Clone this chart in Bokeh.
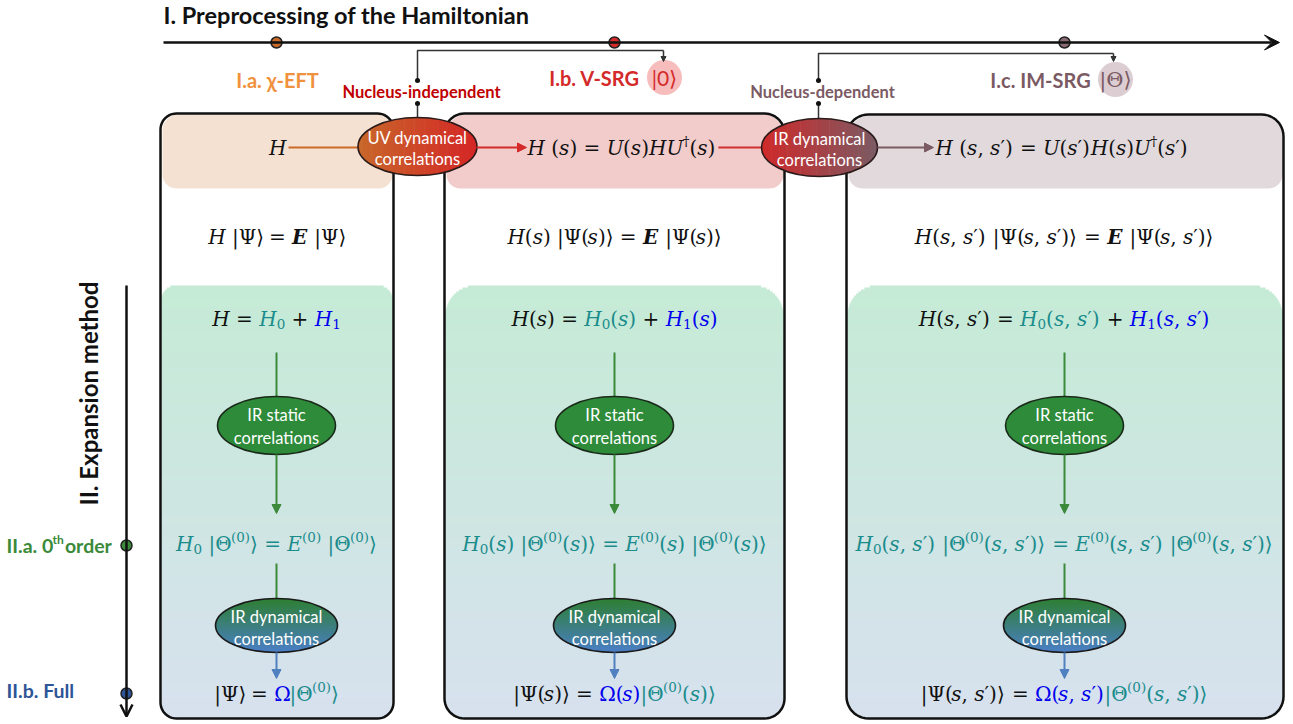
import numpy as np
from bokeh.plotting import figure
from bokeh.models import Range1d, Arrow, NormalHead, VeeHead, OpenHead, ColumnDataSource
from bokeh.core.properties import value
from bokeh.embed import file_html
from bokeh.resources import INLINE

SANS = "Lato"
SERIF = "DejaVu Serif"

# ---------------- content ----------------
TITLE_TOP = "I. Preprocessing of the Hamiltonian"
TITLE_LEFT = "II. Expansion method"
STAGE_LABELS = ["I.a. χ-EFT", "I.b. V-SRG", "I.c. IM-SRG"]
STAGE_KETS = ["", "|0⟩", "|Θ⟩"]
STAGE_KET_FONTS = [SANS, SANS, SERIF]
STAGE_TEXT_COLORS = ["#f0913e", "#d42a2a", "#7b5a63"]
STAGE_DOT_COLORS = ["#c8692a", "#d42a2a", "#8a6a72"]
KET_FILLS = [None, "#f7bcbc", "#dccdd2"]
BRIDGE_LABELS = ["Nucleus-independent", "Nucleus-dependent"]
BRIDGE_COLORS = ["#c00000", "#7b5a63"]
TOP_ELLIPSE_TEXT = [["UV dynamical", "correlations"], ["IR dynamical", "correlations"]]
TOP_ELLIPSE_GRAD = [["#c8672a", "#d42626"], ["#cf2a2a", "#7b5a63"]]
STATIC_TEXT = ["IR static", "correlations"]
STATIC_COLOR = "#2e8b3a"
DYN_TEXT = ["IR dynamical", "correlations"]
DYN_GRAD = ["#2e7f35", "#4a7fc4"]
ORDER_COLORS = ["#3a8a3a", "#2e5597"]
PANEL_TOP_FILLS = ["#f4e1d1", "#f2cbcb", "#e2d9dc"]
GREEN_GRAD = ["#c5ebd6", "#d7e1ee"]

K, T, B, KB = "#111111", "#1a8c8c", "#0000ee", "bold"
ROW1 = [[("H", K)],
        [("H (s) = U(s)HU†(s)", K)],
        [("H (s, s′) = U(s′)H(s)U†(s′)", K)]]
ROW2 = [[("H |Ψ⟩ = ", K), ("E", KB), (" |Ψ⟩", K)],
        [("H(s) |Ψ(s)⟩ = ", K), ("E", KB), (" |Ψ(s)⟩", K)],
        [("H(s, s′) |Ψ(s, s′)⟩ = ", K), ("E", KB), (" |Ψ(s, s′)⟩", K)]]
ROW3 = [[("H = ", K), ("H₀", T), (" + ", K), ("H₁", B)],
        [("H(s) = ", K), ("H₀(s)", T), (" + ", K), ("H₁(s)", B)],
        [("H(s, s′) = ", K), ("H₀(s, s′)", T), (" + ", K), ("H₁(s, s′)", B)]]
ROW4 = [[("H₀ |Θ⁽⁰⁾⟩ = E⁽⁰⁾ |Θ⁽⁰⁾⟩", T)],
        [("H₀(s) |Θ⁽⁰⁾(s)⟩ = E⁽⁰⁾(s) |Θ⁽⁰⁾(s)⟩", T)],
        [("H₀(s, s′) |Θ⁽⁰⁾(s, s′)⟩ = E⁽⁰⁾(s, s′) |Θ⁽⁰⁾(s, s′)⟩", T)]]
ROW5 = [[("|Ψ⟩ = ", K), ("Ω", B), ("|Θ⁽⁰⁾⟩", T)],
        [("|Ψ(s)⟩ = ", K), ("Ω(s)", B), ("|Θ⁽⁰⁾(s)⟩", T)],
        [("|Ψ(s, s′)⟩ = ", K), ("Ω(s, s′)", B), ("|Θ⁽⁰⁾(s, s′)⟩", T)]]

# ---------------- layout (reference pixel frame) ----------------
COL_X = [276, 614, 1064]
PANEL_X = [(160, 393), (444, 784), (846, 1283)]
PANEL_TOP = [113, 113, 114]
PANEL_R = [16, 20, 22]
PANEL_BOTTOM = 718
TOPFILL_BOTTOM = 188
GREEN_TOP = 285
GREEN_R = [14, 30, 30]
ROW_Y = [147, 236, 318, 543, 693]
FS = 20
SS = 13.5
SCRIPT = {'₀': ('0', 'sub'), '₁': ('1', 'sub'), '⁽': ('(', 'sup'), '⁰': ('0', 'sup'), '⁾': (')', 'sup'),
          '†': ('†', 'sup')}
SCRIPT_DY = {'sub': 5, 'sup': -7}

W_SERIF = {' ': 0.318, '(': 0.39, ')': 0.39, ',': 0.318, '=': 0.838, '+': 0.838, '|': 0.337,
           'Ψ': 0.80, 'Θ': 0.787, 'Ω': 0.765, '⟩': 0.39, '′': 0.27, '†': 0.5, '0': 0.636, '1': 0.636,
           'H': 0.872, 'E': 0.734, 'U': 0.82, 's': 0.514}


def lerp(c0, c1, t):
    a = [int(c0[i:i + 2], 16) for i in (1, 3, 5)]
    b = [int(c1[i:i + 2], 16) for i in (1, 3, 5)]
    return "#%02x%02x%02x" % tuple(int(round(a[k] + (b[k] - a[k]) * t)) for k in range(3))


def rr_poly(x0, x1, y0, y1, rt, rb, n=12):
    xs, ys = [], []

    def arc(cx, cy, r, a0, a1):
        for a in np.linspace(a0, a1, n):
            xs.append(cx + r * np.cos(a))
            ys.append(cy + r * np.sin(a))
    arc(x0 + rt, y0 + rt, rt, np.pi, 1.5 * np.pi)
    arc(x1 - rt, y0 + rt, rt, 1.5 * np.pi, 2 * np.pi)
    arc(x1 - rb, y1 - rb, rb, 0, 0.5 * np.pi)
    arc(x0 + rb, y1 - rb, rb, 0.5 * np.pi, np.pi)
    return xs, ys


def inset_at(y, y0, y1, rt, rb):
    if y < y0 + rt:
        d = y0 + rt - y
        return rt - np.sqrt(max(rt * rt - d * d, 0))
    if y > y1 - rb:
        d = y - (y1 - rb)
        return rb - np.sqrt(max(rb * rb - d * d, 0))
    return 0.0


p = figure(width=1293, height=724, x_range=Range1d(0, 1293), y_range=Range1d(724, 0),
           output_backend="svg", toolbar_location=None, min_border=0,
           x_axis_location=None, y_axis_location=None)
p.grid.visible = False
p.outline_line_color = None
p.background_fill_color = "white"
p.border_fill_color = "white"

# ---- panel fills ----
for i, (x0, x1) in enumerate(PANEL_X):
    xs, ys = rr_poly(x0 + 2, x1 - 1, PANEL_TOP[i] + 1, TOPFILL_BOTTOM, PANEL_R[i], 14)
    p.patch(xs, ys, fill_color=PANEL_TOP_FILLS[i], line_color=None)
    yy = np.arange(GREEN_TOP, PANEL_BOTTOM, 2.0)
    L, R, Tp, Bt, C = [], [], [], [], []
    for j, y in enumerate(yy):
        ins = inset_at(y + 1, GREEN_TOP, PANEL_BOTTOM, GREEN_R[i], PANEL_R[i])
        L.append(x0 + 1 + ins)
        R.append(x1 - 1 - ins)
        Tp.append(y)
        Bt.append(min(y + 2.6, PANEL_BOTTOM))
        C.append(lerp(GREEN_GRAD[0], GREEN_GRAD[1], j / (len(yy) - 1)))
    p.quad(left=L, right=R, top=Tp, bottom=Bt, fill_color=C, line_color=None)

# ---- panel outlines ----
for i, (x0, x1) in enumerate(PANEL_X):
    xs, ys = rr_poly(x0, x1, PANEL_TOP[i], PANEL_BOTTOM, PANEL_R[i], PANEL_R[i])
    p.patch(xs, ys, fill_alpha=0, line_color="#111111", line_width=2.5)

# ---- top timeline ----
p.add_layout(Arrow(x_start=163, y_start=42, x_end=1279, y_end=42, line_width=2.5, line_color="#111111",
                   end=VeeHead(size=15, fill_color="#111111", line_color="#111111")))
p.scatter(COL_X, [42] * 3, size=11, fill_color=STAGE_DOT_COLORS, line_color="#222222", line_width=1.5)

# ---- bracket connectors ----
BR_X = [(417, 663), (818, 1113)]
BR_Y = [50, 53]
for k, (xa, xb) in enumerate(BR_X):
    p.line([xa, xa, xb], [80, BR_Y[k], BR_Y[k]], line_color="#333333", line_width=1.5)
    p.add_layout(Arrow(x_start=xb, y_start=BR_Y[k], x_end=xb, y_end=61, line_color="#333333", line_width=1.5,
                       end=NormalHead(size=5, fill_color="#333333", line_color="#333333")))
    p.line([xa, xa], [103, 118], line_color="#333333", line_width=1.5)
    p.scatter([xa, xa], [80, 103], size=5, fill_color="#111111", line_color=None)
    p.text([xa + 4], [91], text=[BRIDGE_LABELS[k]], text_color=BRIDGE_COLORS[k], text_font=value(SANS),
           text_font_style="bold", text_font_size="16.5px", text_align="center", text_baseline="middle")

# ---- stage labels & kets ----
STAGE_LX = [277, 594, 1040]
STAGE_LY = [79, 77, 79]
KET_X = [None, 664, 1115]
for i in range(3):
    p.text([STAGE_LX[i]], [STAGE_LY[i]], text=[STAGE_LABELS[i]], text_color=STAGE_TEXT_COLORS[i],
           text_font=value(SANS), text_font_style="bold", text_font_size="20px",
           text_align="center", text_baseline="middle")
    if KET_FILLS[i]:
        p.scatter([KET_X[i]], [STAGE_LY[i]], size=35, fill_color=KET_FILLS[i], line_color=None)
        p.text([KET_X[i]], [STAGE_LY[i]], text=[STAGE_KETS[i]], text_color=STAGE_TEXT_COLORS[i],
               text_font=value(STAGE_KET_FONTS[i]), text_font_size="21px", text_align="center",
               text_baseline="middle")

p.text([163], [14], text=[TITLE_TOP], text_font=value(SANS), text_font_style="bold",
       text_font_size="23.5px", text_baseline="middle", text_color="#111111")

# ---- formulas ----
fx, fy, ft, fc, fs, fz = [], [], [], [], [], []


def kind_of(ch):
    if ch in SCRIPT:
        return SCRIPT[ch][1]
    if ch == " ":
        return "sp"
    if ch.isascii() and ch.isalpha():
        return "it"
    return "up"


def width_of(s, bold=False):
    w = 0.0
    for ch in s:
        if ch in SCRIPT:
            w += W_SERIF.get(SCRIPT[ch][0], 0.55) * SS
        else:
            w += W_SERIF.get(ch, 0.55) * FS * (1.08 if bold else 1.0)
    return w


def place(segs, x, y, align="center"):
    total = sum(width_of(t, c == KB) for t, c in segs)
    if align == "center":
        cx = x - total / 2
    elif align == "right":
        cx = x - total
    else:
        cx = x
    for t, c in segs:
        bold = c == KB
        col = K if bold else c
        cur, cur_kind = "", None
        for ch in t + "\0":
            kind = kind_of(ch)
            if ch == "\0" or (cur and kind != cur_kind):
                if cur:
                    if cur_kind != "sp":
                        if cur_kind in SCRIPT_DY:
                            fx.append(cx); fy.append(y + SCRIPT_DY[cur_kind])
                            ft.append("".join(SCRIPT[q][0] for q in cur)); fz.append(f"{SS}px")
                            fs.append("normal")
                        else:
                            fx.append(cx); fy.append(y); ft.append(cur); fz.append(f"{FS}px")
                            fs.append(("bold italic" if bold else "italic") if cur_kind == "it" else "normal")
                        fc.append(col)
                    cx += width_of(cur, bold)
                cur = ""
            if ch != "\0":
                cur += ch
                cur_kind = kind
    return cx


place(ROW1[0], 286, ROW_Y[0], "right")
end2 = place(ROW1[1], 527, ROW_Y[0], "left")
place(ROW1[2], 935, ROW_Y[0], "left")
for r, row in enumerate([ROW2, ROW3, ROW4, ROW5]):
    for i in range(3):
        place(row[i], COL_X[i], ROW_Y[r + 1])
p.text(x="x", y="y", text="text", text_color="color", text_font_style="style", text_font_size="size",
       source=ColumnDataSource(dict(x=fx, y=fy, text=ft, color=fc, style=fs, size=fz)),
       text_font=value(SERIF), text_align="left", text_baseline="middle")

# ---- top flow lines ----
p.line([288, 360], [147, 147], line_color="#cc6a2a", line_width=2)
p.add_layout(Arrow(x_start=476, y_start=147, x_end=526, y_end=147, line_color="#d42a2a", line_width=2,
                   end=NormalHead(size=9, fill_color="#d42a2a", line_color="#d42a2a")))
p.line([end2 + 3, 763], [147, 147], line_color="#d03030", line_width=2)
p.add_layout(Arrow(x_start=877, y_start=147, x_end=933, y_end=147, line_color="#7b5a63", line_width=2,
                   end=NormalHead(size=9, fill_color="#7b5a63", line_color="#7b5a63")))

# ---- vertical flow lines ----
for c in COL_X:
    p.line([c, c], [352, 397], line_color="#3a8a3a", line_width=2)
    p.add_layout(Arrow(x_start=c, y_start=454, x_end=c, y_end=513, line_color="#3a8a3a", line_width=2,
                       end=NormalHead(size=9, fill_color="#3a8a3a", line_color="#3a8a3a")))
    p.line([c, c], [563, 598], line_color="#3a8a3a", line_width=2)
    p.add_layout(Arrow(x_start=c, y_start=652, x_end=c, y_end=678, line_color="#5080c0", line_width=2,
                       end=NormalHead(size=9, fill_color="#5080c0", line_color="#5080c0")))


# ---- ellipses ----
def ellipse_grad(cx, cy, w, h, c0, c1, axis, n=36):
    xs_all, ys_all, cols = [], [], []
    a, b = w / 2, h / 2
    for i in range(n):
        if axis == "x":
            u0, u1 = -a + 2 * a * i / n, min(-a + 2 * a * (i + 1) / n + 0.6, a)
            u = np.linspace(u0, u1, 6)
            v = b * np.sqrt(np.clip(1 - (u / a) ** 2, 0, 1))
            xs_all.append(list(cx + u) + list(cx + u[::-1]))
            ys_all.append(list(cy - v) + list(cy + v[::-1]))
        else:
            v0, v1 = -b + 2 * b * i / n, min(-b + 2 * b * (i + 1) / n + 0.6, b)
            v = np.linspace(v0, v1, 6)
            u = a * np.sqrt(np.clip(1 - (v / b) ** 2, 0, 1))
            ys_all.append(list(cy + v) + list(cy + v[::-1]))
            xs_all.append(list(cx - u) + list(cx + u[::-1]))
        cols.append(lerp(c0, c1, i / (n - 1)))
    p.patches(xs_all, ys_all, fill_color=cols, line_color=None)


TOP_E = [(417, 146, 119, 58), (819, 147, 116, 58)]
for k, (cx, cy, w, h) in enumerate(TOP_E):
    ellipse_grad(cx, cy, w, h, TOP_ELLIPSE_GRAD[k][0], TOP_ELLIPSE_GRAD[k][1], "x")
    p.ellipse([cx], [cy], width=w, height=h, fill_color=None, line_color="#2a1a1a", line_width=1.6)
    p.text([cx, cx], [cy - 9, cy + 12], text=TOP_ELLIPSE_TEXT[k], text_color="white", text_font=value(SANS),
           text_font_size="16.5px", text_align="center", text_baseline="middle")

for c in COL_X:
    p.ellipse([c], [425], width=118, height=58, fill_color=STATIC_COLOR, line_color="#1a2a1a", line_width=1.6)
    p.text([c, c], [414, 437], text=STATIC_TEXT, text_color="white", text_font=value(SANS),
           text_font_size="16.5px", text_align="center", text_baseline="middle")
    ellipse_grad(c, 625, 122, 54, DYN_GRAD[0], DYN_GRAD[1], "y")
    p.ellipse([c], [625], width=122, height=54, fill_color=None, line_color="#1a1a1a", line_width=1.6)
    p.text([c, c], [616, 638], text=DYN_TEXT, text_color="white", text_font=value(SANS),
           text_font_size="16.5px", text_align="center", text_baseline="middle")

# ---- left expansion axis ----
p.add_layout(Arrow(x_start=126, y_start=285, x_end=126, y_end=716, line_color="#111111", line_width=2.5,
                   end=OpenHead(size=12, line_color="#111111", line_width=2.5)))
p.scatter([126, 126], [545, 693], size=11, fill_color=ORDER_COLORS, line_color="#222222", line_width=1.5)
p.text([88], [393], text=[TITLE_LEFT], angle=np.pi / 2, text_font=value(SANS), text_font_style="bold",
       text_font_size="24px", text_align="center", text_baseline="middle", text_color="#111111")

OFS = 19.5
LATO_B = {'I': 0.28, '.': 0.25, 'a': 0.51, ' ': 0.21, '0': 0.58, 't': 0.37, 'h': 0.58}
x_th = 6 + sum(LATO_B.get(ch, 0.55) for ch in "II.a. 0") * OFS
x_or = x_th + sum(LATO_B.get(ch, 0.55) for ch in "th") * 12 + 1
p.text([6], [545], text=["II.a. 0"], text_color=ORDER_COLORS[0], text_font=value(SANS), text_font_style="bold",
       text_font_size=f"{OFS}px", text_baseline="middle")
p.text([x_th], [539], text=["th"], text_color=ORDER_COLORS[0], text_font=value(SANS), text_font_style="bold",
       text_font_size="12px", text_baseline="middle")
p.text([x_or], [545], text=["order"], text_color=ORDER_COLORS[0], text_font=value(SANS), text_font_style="bold",
       text_font_size=f"{OFS}px", text_baseline="middle")
p.text([6], [690], text=["II.b. Full"], text_color=ORDER_COLORS[1], text_font=value(SANS), text_font_style="bold",
       text_font_size=f"{OFS}px", text_baseline="middle")

open("out.html", "w").write(file_html(p, INLINE))
